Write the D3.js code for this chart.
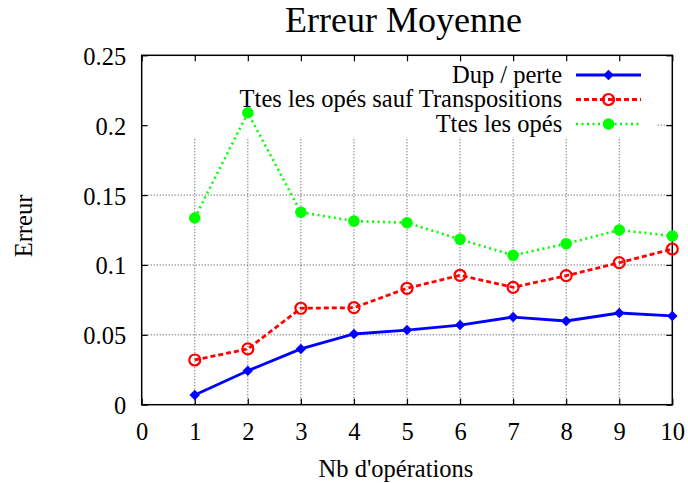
<!DOCTYPE html>
<html>
<head>
<meta charset="utf-8">
<script src="https://cdnjs.cloudflare.com/ajax/libs/d3/7.8.5/d3.min.js"></script>
<style>
  body { margin: 0; background: #fff; }
  text { font-family: "Liberation Serif", "Times New Roman", serif; fill: #000; }
</style>
</head>
<body>
<div id="chart"></div>
<script>
// values
var ops        = [1, 2, 3, 4, 5, 6, 7, 8, 9, 10];
var dupPerte   = [0.007, 0.0243, 0.0399, 0.0506, 0.0534, 0.057, 0.0627, 0.0599, 0.0656, 0.0635];
var sansTransp = [0.032, 0.0399, 0.069, 0.0694, 0.0833, 0.0926, 0.084, 0.0923, 0.1016, 0.1114];
var toutesOps  = [0.1336, 0.2089, 0.1377, 0.1314, 0.1302, 0.1183, 0.1069, 0.1152, 0.125, 0.1207];
var seriesNames = ["Dup / perte", "Ttes les opés sauf Transpositions", "Ttes les opés"];
var xTicks = [0, 1, 2, 3, 4, 5, 6, 7, 8, 9, 10];
var yTicks = [0, 0.05, 0.1, 0.15, 0.2, 0.25];

var margin = {top: 55.3, left: 141.7},
    width = 530.6,
    height = 349.4,
    fontSize = "24.5px";

var svg = d3.select("#chart").append("svg")
  .attr("width", 688)
  .attr("height", 483);

var g = svg.append("g")
  .attr("transform", "translate(" + margin.left + "," + margin.top + ")");

var x = d3.scaleLinear().domain([0, 10]).range([0, width]);
var y = d3.scaleLinear().domain([0, 0.25]).range([height, 0]);

function place(sel, px, py) {
  sel.attr("x", px).attr("y", py).attr("dy", null);
}

// grid
g.selectAll(".vgrid").data(xTicks.slice(1, -1)).enter().append("line")
  .attr("x1", function(d) { return x(d); })
  .attr("x2", function(d) { return x(d); })
  .attr("y1", 0).attr("y2", height)
  .style("stroke", "#444").style("stroke-width", 1).style("stroke-dasharray", "1,2");
g.selectAll(".hgrid").data(yTicks.slice(1, -1)).enter().append("line")
  .attr("y1", function(d) { return y(d); })
  .attr("y2", function(d) { return y(d); })
  .attr("x1", 0).attr("x2", width)
  .style("stroke", "#444").style("stroke-width", 1).style("stroke-dasharray", "1,2");

// key box clears the grid behind it
g.append("rect")
  .attr("x", 0).attr("y", 0)
  .attr("width", 515.5).attr("height", 82)
  .style("fill", "#fff");

// axes with inward ticks on all sides
var xAxis = d3.axisBottom(x).tickValues(xTicks).tickSize(-6).tickFormat(d3.format("d"));
var yAxis = d3.axisLeft(y).tickValues(yTicks).tickSize(-6).tickFormat(function(d) { return d === 0 ? "0" : String(d); });

var gx = g.append("g").attr("transform", "translate(0," + height + ")").call(xAxis);
gx.selectAll("text").each(function() {
  place(d3.select(this), 0, 35.3);
  d3.select(this).attr("text-anchor", "middle");
}).style("font-size", fontSize);
var gy = g.append("g").call(yAxis);
gy.selectAll("text").each(function() {
  place(d3.select(this), -15.5, 9);
  d3.select(this).attr("text-anchor", "end");
}).style("font-size", fontSize);
g.append("g").call(d3.axisTop(x).tickValues(xTicks).tickSize(-6).tickFormat(""));
g.append("g").attr("transform", "translate(" + width + ",0)")
  .call(d3.axisRight(y).tickValues(yTicks).tickSize(-6).tickFormat(""));
g.selectAll(".domain").remove();
g.selectAll(".tick line").style("stroke", "#000").style("stroke-width", 1.2);

g.append("rect")
  .attr("width", width).attr("height", height)
  .style("fill", "none").style("stroke", "#000").style("stroke-width", 1.5);

// series
var series = [
  {name: seriesNames[0], values: dupPerte,   color: "#0000ff", dash: null,  marker: "diamond"},
  {name: seriesNames[1], values: sansTransp, color: "#ff0000", dash: "5,3", marker: "ring"},
  {name: seriesNames[2], values: toutesOps,  color: "#00ff00", dash: "2,3.5", marker: "dot"}
];

var line = d3.line()
  .x(function(d, i) { return x(ops[i]); })
  .y(function(d) { return y(d); });

function drawMarker(sel, s) {
  if (s.marker === "diamond") {
    sel.append("path")
      .attr("d", d3.symbol().type(d3.symbolDiamond2).size(70)())
      .style("fill", s.color);
  } else if (s.marker === "ring") {
    sel.append("circle").attr("r", 5.5)
      .style("fill", "none").style("stroke", s.color).style("stroke-width", 2.2);
  } else {
    sel.append("circle").attr("r", 5.8).style("fill", s.color);
  }
}

series.forEach(function(s) {
  g.append("path")
    .attr("d", line(s.values))
    .style("fill", "none")
    .style("stroke", s.color)
    .style("stroke-width", s.marker === "dot" ? 2.6 : 2.8)
    .style("stroke-dasharray", s.dash);
  g.selectAll(null).data(s.values).enter().append("g")
    .attr("transform", function(d, i) { return "translate(" + x(ops[i]) + "," + y(d) + ")"; })
    .each(function() { drawMarker(d3.select(this), s); });
});

// legend
var legend = g.selectAll(".legend").data(series).enter().append("g")
  .attr("transform", function(d, i) { return "translate(0," + (19.7 + i * 24.5) + ")"; });
legend.append("text")
  .style("font-size", fontSize)
  .attr("text-anchor", "end")
  .each(function() { place(d3.select(this), 420.5, 7.8); })
  .text(function(d) { return d.name; });
legend.append("line")
  .attr("x1", 434.3).attr("x2", 499.3)
  .style("stroke", function(d) { return d.color; })
  .style("stroke-width", function(d) { return d.marker === "dot" ? 2.6 : 2.8; })
  .style("stroke-dasharray", function(d) { return d.dash; });
legend.append("g")
  .attr("transform", "translate(466.8,0)")
  .each(function(d) { drawMarker(d3.select(this), d); });

// titles
svg.append("text")
  .style("font-size", "36px")
  .attr("text-anchor", "middle")
  .attr("x", 403.5).attr("y", 32)
  .text("Erreur Moyenne");

svg.append("text")
  .style("font-size", fontSize)
  .attr("text-anchor", "middle")
  .attr("x", 396).attr("y", 476.5)
  .text("Nb d'opérations");

svg.append("text")
  .style("font-size", fontSize)
  .attr("text-anchor", "middle")
  .attr("transform", "translate(32,226) rotate(-90)")
  .text("Erreur");
</script>
</body>
</html>
